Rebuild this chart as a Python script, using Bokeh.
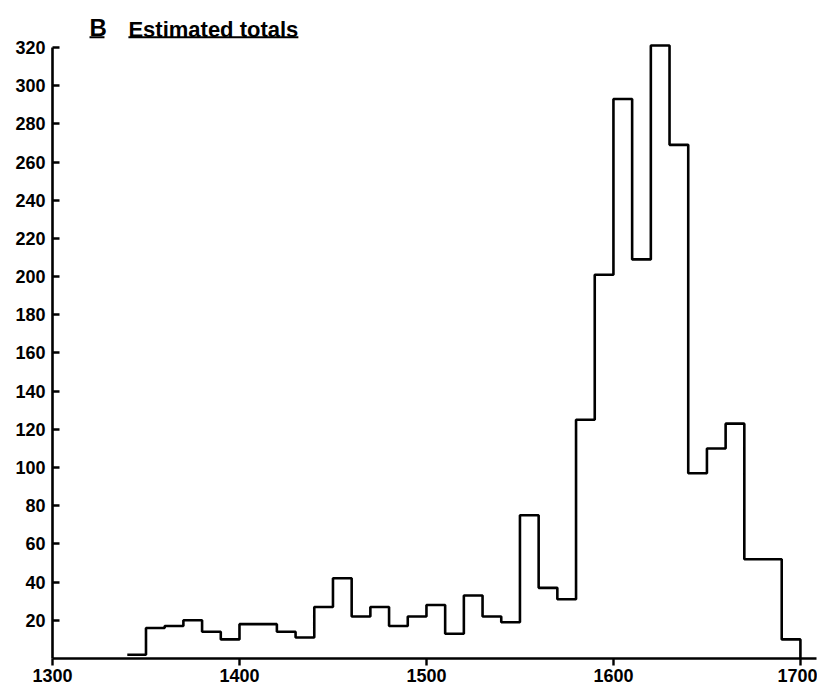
from bokeh.plotting import figure
from bokeh.models import Range1d, FixedTicker, Label, BoxAnnotation
from bokeh.embed import file_html
from bokeh.resources import INLINE

# Bin left edges (10-year bins) and estimated totals
bin_starts = [1340, 1350, 1360, 1370, 1380, 1390, 1400, 1410, 1420, 1430,
              1440, 1450, 1460, 1470, 1480, 1490, 1500, 1510, 1520, 1530,
              1540, 1550, 1560, 1570, 1580, 1590, 1600, 1610, 1620, 1630,
              1640, 1650, 1660, 1670, 1680, 1690]
totals = [2, 16, 17, 20, 14, 10, 18, 18, 14, 11,
          27, 42, 22, 27, 17, 22, 28, 13, 33, 22,
          19, 75, 37, 31, 125, 201, 293, 209, 321, 269,
          97, 110, 123, 52, 52, 10]
bin_width = 10
x_ticks = [1300, 1400, 1500, 1600, 1700]
y_ticks = list(range(20, 321, 20))
title_letter = "B"
title_text = "Estimated totals"

xs = bin_starts + [bin_starts[-1] + bin_width]
ys = totals + [0]

p = figure(width=817, height=685, output_backend="svg", toolbar_location=None,
           x_range=Range1d(1300, 1708.6), y_range=Range1d(0, 344.6),
           min_border_left=52, min_border_right=1, min_border_top=0,
           min_border_bottom=27)
p.outline_line_color = None
p.xgrid.visible = False
p.ygrid.visible = False
p.background_fill_color = "white"

p.step(x=xs, y=ys, mode="after", line_color="black", line_width=2.6)

font = "Liberation Sans"
for ax in (p.xaxis[0], p.yaxis[0]):
    ax.axis_line_width = 2.6
    ax.axis_line_color = "black"
    ax.major_tick_line_width = 2.4
    ax.major_tick_line_color = "black"
    ax.minor_tick_line_color = None
    ax.major_label_text_font = font
    ax.major_label_text_font_style = "bold"
    ax.major_label_text_color = "black"

p.xaxis.ticker = FixedTicker(ticks=x_ticks)
p.xaxis.major_tick_in = 0
p.xaxis.major_tick_out = 7
p.xaxis.major_label_standoff = 3
p.xaxis.major_label_text_font_size = "18px"

p.yaxis.ticker = FixedTicker(ticks=y_ticks)
p.yaxis.bounds = (0, 320)
p.yaxis.major_tick_in = 7
p.yaxis.major_tick_out = 0
p.yaxis.major_label_standoff = 7
p.yaxis.major_label_text_font_size = "18px"

# Title with underlines
p.add_layout(Label(x=1319.8, y=330.5, text=title_letter, text_font=font,
                   text_font_style="bold", text_font_size="24px",
                   text_color="black", text_baseline="alphabetic"))
p.add_layout(Label(x=1340.6, y=329.3, text=title_text, text_font=font,
                   text_font_style="bold", text_font_size="22px",
                   text_color="black", text_baseline="alphabetic"))
p.add_layout(BoxAnnotation(left=1319.8, right=1327.8, bottom=324.8, top=325.9,
                           fill_color="black", fill_alpha=1, line_color=None))
p.add_layout(BoxAnnotation(left=1340.6, right=1431.5, bottom=324.8, top=325.9,
                           fill_color="black", fill_alpha=1, line_color=None))

open("out.html", "w").write(file_html(p, INLINE))
